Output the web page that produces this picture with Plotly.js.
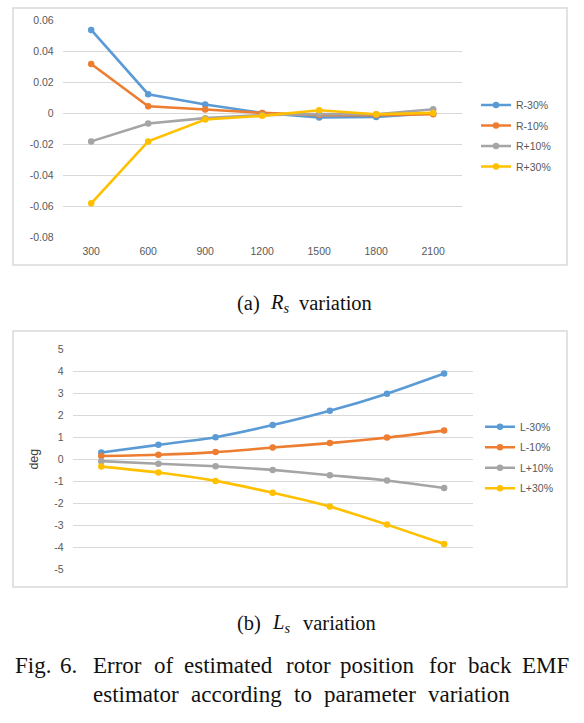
<!DOCTYPE html>
<html>
<head>
<meta charset="utf-8">
<script src="https://cdn.plot.ly/plotly-3.0.1.min.js"></script>
<style>
html,body{margin:0;padding:0;background:#fff;}
#chart{width:584px;height:723px;}
</style>
</head>
<body>
<div id="chart"></div>
<script>
// ---------- data ----------
const speeds = ['300', '600', '900', '1200', '1500', '1800', '2100'];

const rNames = ['R-30%', 'R-10%', 'R+10%', 'R+30%'];
const rMinus30 = [0.054, 0.0125, 0.0058, 0.0004, -0.0026, -0.0022, 0.0002];
const rMinus10 = [0.032, 0.0047, 0.0026, 0.0004, -0.001, -0.001, -0.0005];
const rPlus10  = [-0.018, -0.0065, -0.003, -0.001, -0.0003, -0.0005, 0.0028];
const rPlus30  = [-0.058, -0.018, -0.0039, -0.0015, 0.0021, -0.0005, 0.0004];

const lNames = ['L-30%', 'L-10%', 'L+10%', 'L+30%'];
const lMinus30 = [0.3, 0.65, 1.0, 1.55, 2.2, 2.98, 3.9];
const lMinus10 = [0.14, 0.2, 0.32, 0.53, 0.73, 0.98, 1.3];
const lPlus10  = [-0.09, -0.21, -0.32, -0.49, -0.73, -0.97, -1.31];
const lPlus30  = [-0.34, -0.61, -0.99, -1.53, -2.16, -2.98, -3.86];

const rTickVals = [0.06, 0.04, 0.02, 0, -0.02, -0.04, -0.06, -0.08];
const rTickText = ['0.06', '0.04', '0.02', '0', '-0.02', '-0.04', '-0.06', '-0.08'];
const lTickVals = [5, 4, 3, 2, 1, 0, -1, -2, -3, -4, -5];
const lTickText = ['5', '4', '3', '2', '1', '0', '-1', '-2', '-3', '-4', '-5'];

const yTitleL = 'deg';
const captionA = ['(a)', '<i>R<sub>s</sub></i>', 'variation'];
const captionB = ['(b)', '<i>L<sub>s</sub></i>', 'variation'];
const figLine1 = ['Fig.', '6.', 'Error', 'of', 'estimated', 'rotor', 'position', 'for', 'back', 'EMF'];
const figLine2 = ['estimator', 'according', 'to', 'parameter', 'variation'];

// ---------- styling ----------
const W = 584, H = 723;
const colors = ['#5B9BD5', '#ED7D31', '#A5A5A5', '#FFC000'];
const px = v => v / W;
const py = v => 1 - v / H;
const tickFont = {family: 'Liberation Sans, Arial, sans-serif', size: 10.5, color: '#595959'};
const serif = 'Liberation Serif, Times New Roman, serif';

const rSeries = [rMinus30, rMinus10, rPlus10, rPlus30];
const lSeries = [lMinus30, lMinus10, lPlus10, lPlus30];

const traces = [];
rSeries.forEach((ys, i) => {
  traces.push({
    x: speeds, y: ys, name: rNames[i], type: 'scatter', mode: 'lines+markers',
    xaxis: 'x', yaxis: 'y', legend: 'legend', legendgroup: 'r' + i,
    line: {color: colors[i], width: 2.6},
    marker: {color: colors[i], size: 6.5, symbol: 'circle'}
  });
});
lSeries.forEach((ys, i) => {
  traces.push({
    x: speeds, y: ys, name: lNames[i], type: 'scatter', mode: 'lines+markers',
    xaxis: 'x2', yaxis: 'y2', legend: 'legend2', legendgroup: 'l' + i,
    line: {color: colors[i], width: 2.6, shape: 'spline', smoothing: 0.6},
    marker: {color: colors[i], size: 6.5, symbol: 'circle'}
  });
});

const annotations = [];
function word(text, x, yc, size) {
  annotations.push({
    text: text, xref: 'paper', yref: 'paper', x: px(x), y: py(yc),
    xanchor: 'left', yanchor: 'middle', showarrow: false, borderpad: 0,
    font: {family: serif, size: size, color: '#111111'}
  });
}
const capX = [236, 269, 298];
captionA.forEach((t, i) => word(t, capX[i], 303, 20.5));
captionB.forEach((t, i) => word(t, capX[i] + (i === 1 ? 2 : 0) + (i === 2 ? 4 : 0), 623, 20.5));
const f1X = [14, 59, 92, 153, 183, 285, 339, 428, 467, 521];
figLine1.forEach((t, i) => word(t, f1X[i], 665, 23));
const f2X = [92, 190, 293, 323, 427];
figLine2.forEach((t, i) => word(t, f2X[i], 694, 23));

const layout = {
  width: W, height: H,
  margin: {l: 0, r: 0, t: 0, b: 0},
  paper_bgcolor: '#ffffff', plot_bgcolor: '#ffffff',
  showlegend: true,
  xaxis: {
    domain: [px(62.7), px(461.7)], anchor: 'y', type: 'category',
    range: [-0.5, 6.5], showgrid: false, zeroline: false, showline: false,
    ticks: '', tickfont: tickFont, ticklabelstandoff: 6, fixedrange: true
  },
  yaxis: {
    domain: [py(237.3), py(20.7)], anchor: 'x', range: [-0.08, 0.06],
    tickvals: rTickVals, ticktext: rTickText, tickfont: tickFont,
    gridcolor: '#d9d9d9', gridwidth: 1, zeroline: false, showline: false,
    ticks: '', ticklabelstandoff: 8, fixedrange: true
  },
  xaxis2: {
    domain: [px(72.7), px(472.7)], anchor: 'y2', type: 'category',
    range: [-0.5, 6.5], showgrid: false, zeroline: false, showline: false,
    showticklabels: false, ticks: '', fixedrange: true
  },
  yaxis2: {
    domain: [py(569), py(349.3)], anchor: 'x2', range: [-5, 5],
    tickvals: lTickVals, ticktext: lTickText, tickfont: tickFont,
    gridcolor: '#d9d9d9', gridwidth: 1, zeroline: false, showline: false,
    ticks: '', ticklabelstandoff: 8, fixedrange: true,
    title: {text: yTitleL, font: {family: 'Liberation Sans, Arial, sans-serif', size: 12.5, color: '#404040'}, standoff: 12}
  },
  legend: {
    x: px(476), xanchor: 'left', y: py(136), yanchor: 'middle',
    bgcolor: 'rgba(0,0,0,0)', font: tickFont, tracegroupgap: 1.5
  },
  legend2: {
    x: px(480), xanchor: 'left', y: py(457.7), yanchor: 'middle',
    bgcolor: 'rgba(0,0,0,0)', font: tickFont, tracegroupgap: 1.5
  },
  shapes: [
    {type: 'rect', xref: 'paper', yref: 'paper', x0: px(13), x1: px(567), y0: py(265), y1: py(8),
     line: {color: '#d9d9d9', width: 1.5}, fillcolor: 'rgba(0,0,0,0)', layer: 'below'},
    {type: 'rect', xref: 'paper', yref: 'paper', x0: px(13), x1: px(567), y0: py(587), y1: py(331),
     line: {color: '#d9d9d9', width: 1.5}, fillcolor: 'rgba(0,0,0,0)', layer: 'below'}
  ],
  annotations: annotations
};

Plotly.newPlot('chart', traces, layout, {staticPlot: true, displayModeBar: false});
</script>
</body>
</html>
